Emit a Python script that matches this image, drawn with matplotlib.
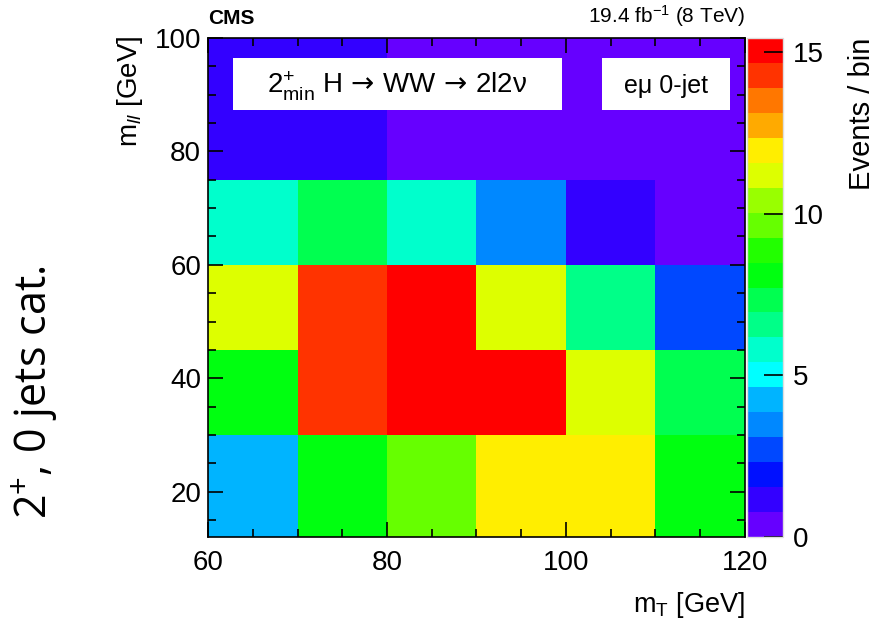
import numpy as np
import matplotlib
matplotlib.use('Agg')
import matplotlib.pyplot as plt
from matplotlib.colors import ListedColormap, BoundaryNorm
from matplotlib.patches import Rectangle
from matplotlib.ticker import MultipleLocator

plt.rcParams['font.family'] = ['Liberation Sans', 'DejaVu Sans']
plt.rcParams['mathtext.fontset'] = 'custom'
plt.rcParams['mathtext.rm'] = 'Liberation Sans'
plt.rcParams['mathtext.it'] = 'Liberation Sans:italic'
plt.rcParams['mathtext.sf'] = 'DejaVu Sans'

# bin edges
mt_edges = [60, 70, 80, 90, 100, 110, 120]
mll_edges = [12, 30, 45, 60, 75, 100]

# events per bin, rows = mll bins (bottom to top), cols = mT bins
events = [
    [4.2, 8.1, 9.6, 11.9, 11.9, 8.1],
    [8.1, 14.3, 15.0, 15.0, 11.2, 7.3],
    [11.2, 14.3, 15.0, 11.2, 6.6, 2.7],
    [5.8, 7.3, 5.8, 3.5, 1.2, 0.4],
    [1.2, 1.2, 0.4, 0.4, 0.4, 0.4],
]

z_max = 15.43
n_levels = 20
palette = ['#6600ff', '#3300ff', '#0010ff', '#0048ff', '#0088ff',
           '#00b4ff', '#00ffff', '#00ffcc', '#00ff88', '#00ff50',
           '#00ff10', '#22ff00', '#66ff00', '#99ff00', '#ddff00',
           '#ffee00', '#ffaa00', '#ff7700', '#ff3300', '#ff0000']

cmap = ListedColormap(palette)
norm = BoundaryNorm(np.linspace(0, z_max, n_levels + 1), cmap.N)

fig = plt.figure(figsize=(8.76, 6.24), dpi=100)
ax = fig.add_axes([208 / 876, 87 / 624, 537 / 876, 499 / 624])
cax = fig.add_axes([747 / 876, 87 / 624, 36 / 876, 499 / 624])

mesh = ax.pcolormesh(mt_edges, mll_edges, np.array(events), cmap=cmap, norm=norm)
ax.set_xlim(60, 120)
ax.set_ylim(12, 100)

ax.xaxis.set_major_locator(MultipleLocator(20))
ax.xaxis.set_minor_locator(MultipleLocator(5))
ax.yaxis.set_major_locator(MultipleLocator(20))
ax.yaxis.set_minor_locator(MultipleLocator(5))
ax.tick_params(which='both', direction='in', top=True, right=True, labelsize=20, width=1.2)
ax.tick_params(which='major', length=11)
ax.tick_params(which='minor', length=6)
ax.tick_params(axis='x', pad=9)
ax.tick_params(axis='y', pad=5)
for sp in ax.spines.values():
    sp.set_linewidth(1.2)

cb = fig.colorbar(mesh, cax=cax, ticks=[0, 5, 10, 15])
cb.outline.set_edgecolor('#dddddd')
cb.outline.set_linewidth(1.0)
cax.tick_params(direction='in', length=14, width=1.2, labelsize=20, pad=7)
cax.minorticks_off()

# text boxes
ax.add_patch(Rectangle((0.0466, 0.856), 0.612, 0.104, transform=ax.transAxes,
                       facecolor='white', edgecolor='none', zorder=3))
ax.add_patch(Rectangle((0.734, 0.856), 0.238, 0.104, transform=ax.transAxes,
                       facecolor='white', edgecolor='none', zorder=3))
ax.text(0.352, 0.904,
        r'$\mathregular{2^{+}_{min}}$ H$\,\mathsf{\rightarrow}\,$WW$\,\mathsf{\rightarrow}\,$2l2ν',
        transform=ax.transAxes, ha='center', va='center', fontsize=20, zorder=4)
ax.text(0.853, 0.904, 'eμ 0-jet', transform=ax.transAxes,
        ha='center', va='center', fontsize=18, zorder=4)

fig.text(208 / 876, 1 - 19 / 624, 'CMS', fontsize=15, fontweight='bold', ha='left', va='center')
fig.text(745 / 876, 1 - 16 / 624, r'19.4 fb$^{\mathregular{-1}}$ (8 TeV)', fontsize=15,
         ha='right', va='center')

fig.text(130 / 876, 1 - 36 / 624, r'm$_{\mathit{ll}}$ [GeV]', fontsize=20, rotation=90,
         ha='center', va='top')
fig.text(745 / 876, 1 - 605 / 624, r'm$_\mathregular{T}$ [GeV]', fontsize=19.5,
         ha='right', va='center')
fig.text(862 / 876, 1 - 38 / 624, 'Events / bin', fontsize=21, rotation=90,
         ha='center', va='top')

fig.text(35 / 876, 1 - 392 / 624, r'2$^{+}$, 0 jets cat.', fontsize=31, rotation=90,
         ha='center', va='center', family=['Open Sans', 'DejaVu Sans'])

fig.savefig('out.png', dpi=100)
